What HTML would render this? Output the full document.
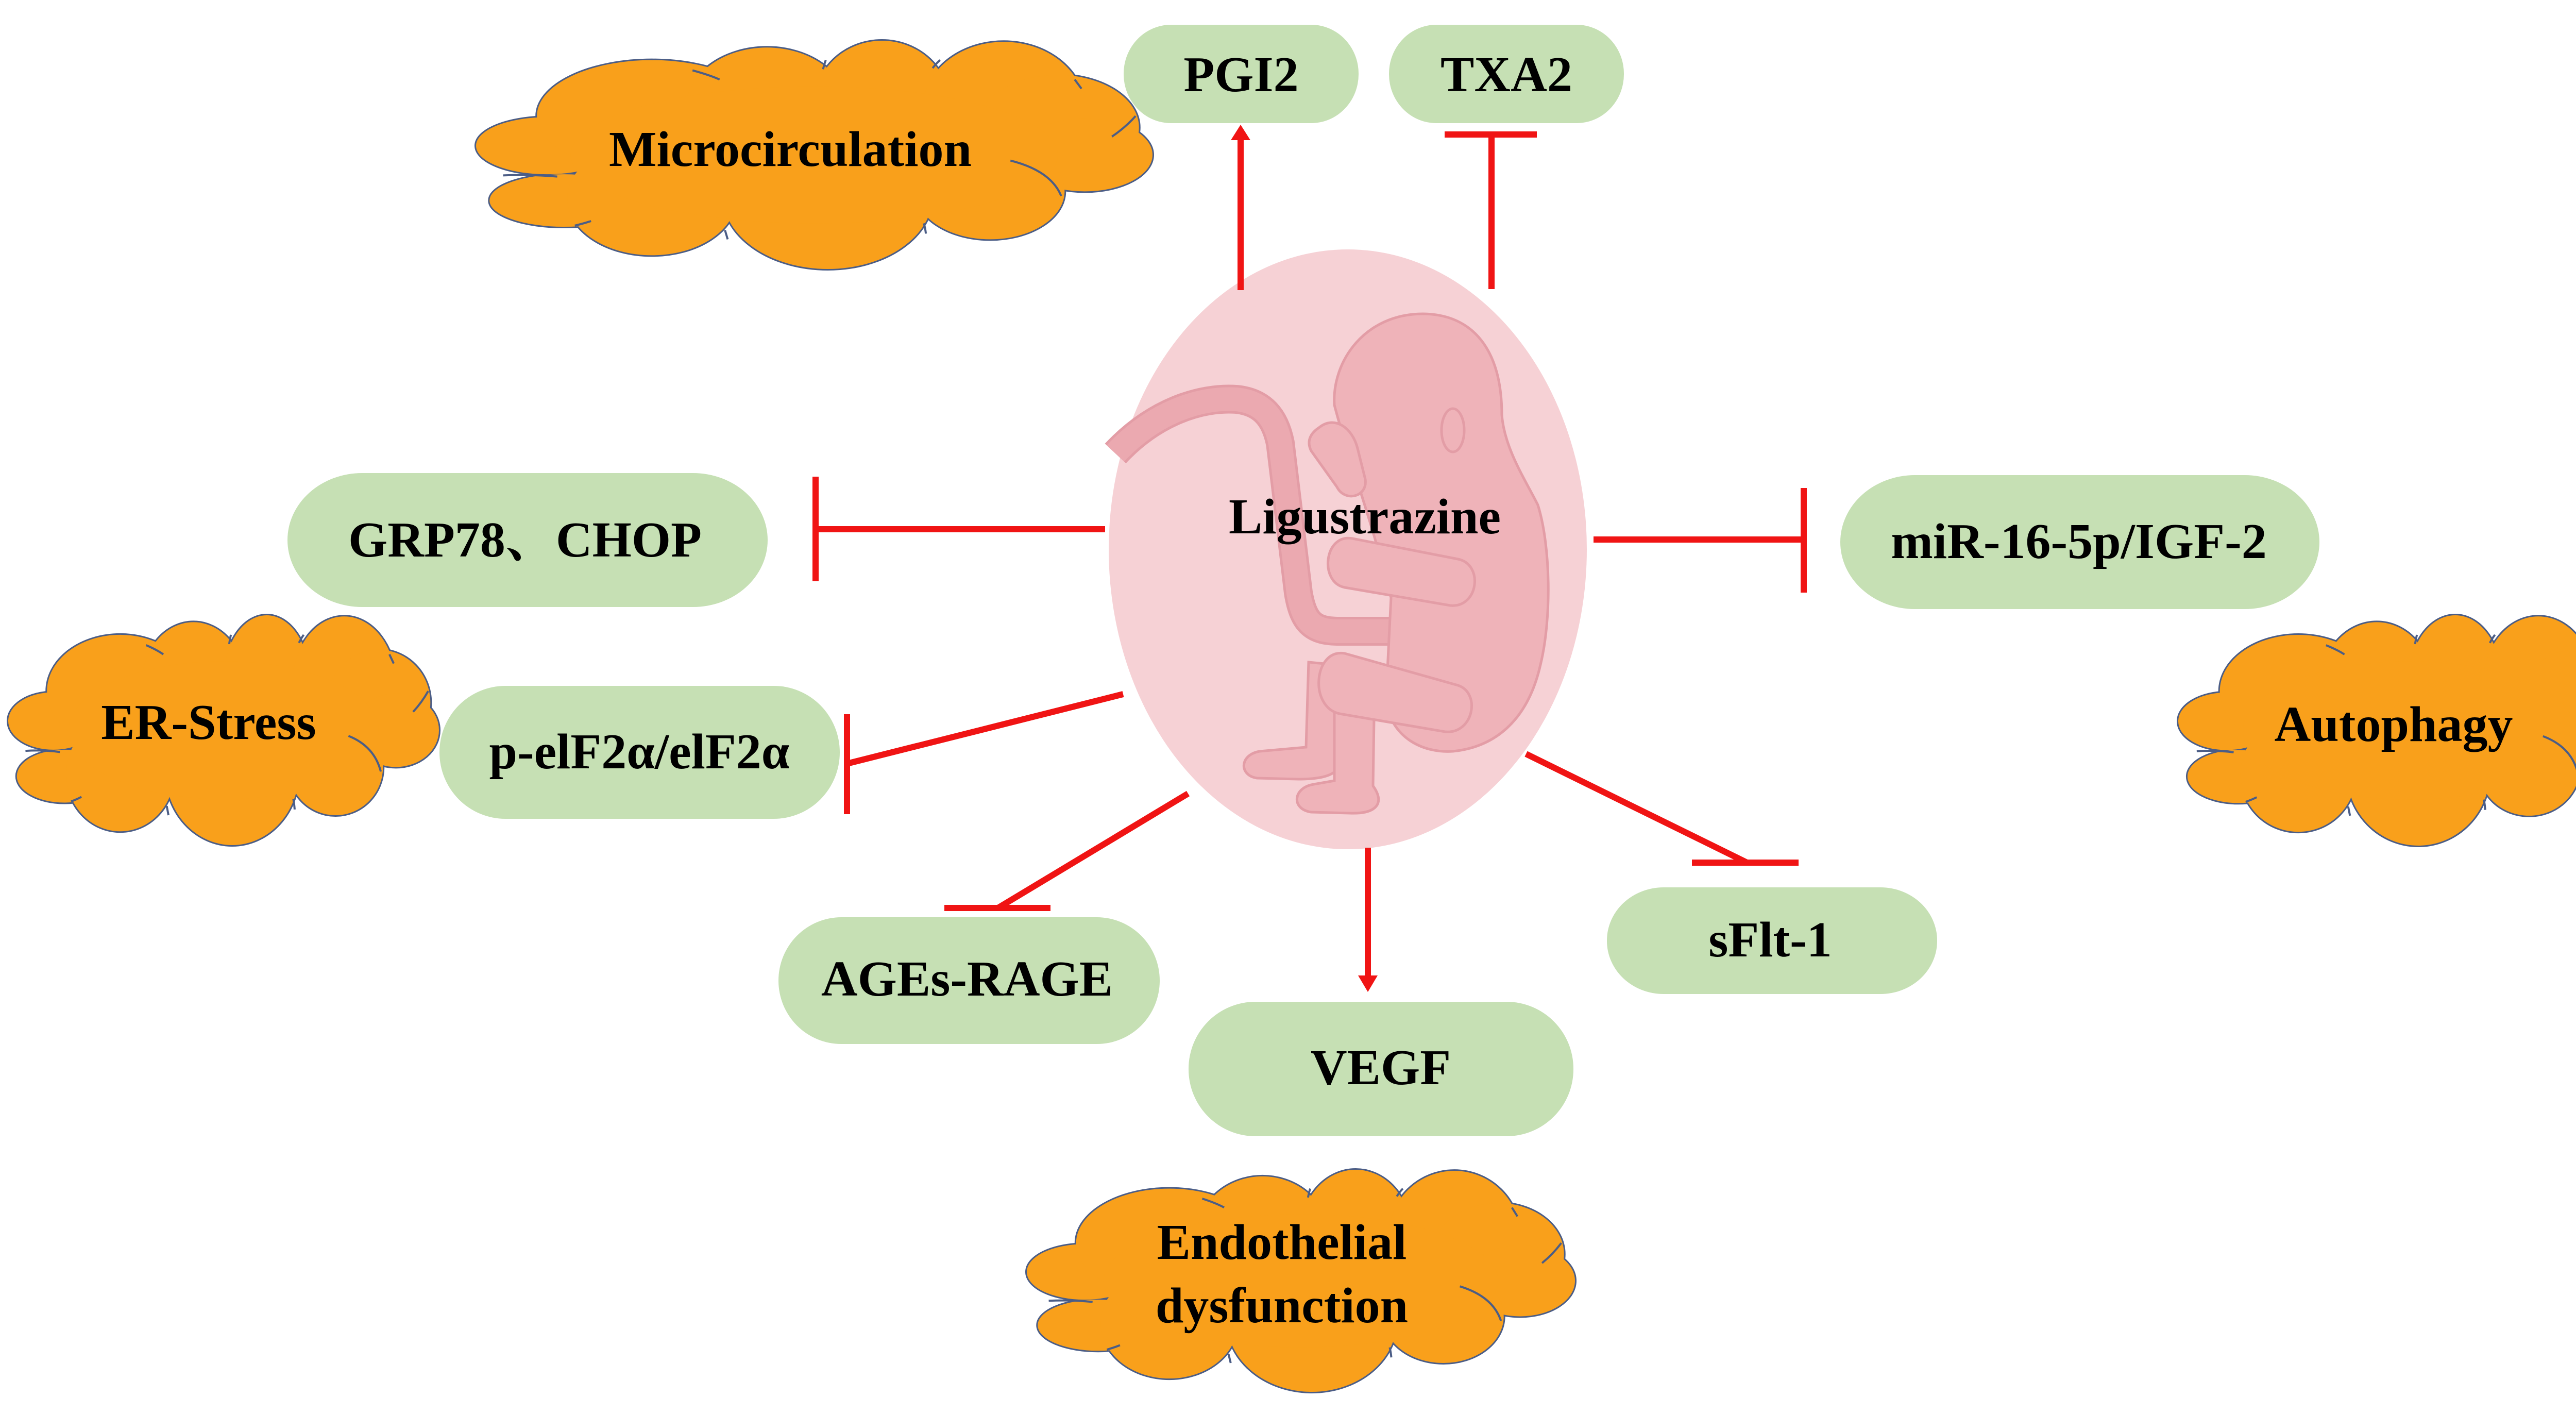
<!DOCTYPE html>
<html>
<head>
<meta charset="utf-8">
<style>
html,body{margin:0;padding:0;background:#fff;}
body{width:5213px;height:2744px;overflow:hidden;}
svg{display:block;}
.t{font-family:"Liberation Serif","Noto Serif CJK SC",serif;font-weight:bold;font-size:98px;fill:#000;text-anchor:middle;}
</style>
</head>
<body>
<svg width="5213" height="2744" viewBox="0 0 5213 2744" xmlns="http://www.w3.org/2000/svg">
<defs>
<g id="cl">
 <ellipse vector-effect="non-scaling-stroke" cx=".105" cy=".46" rx=".105" ry=".125"/>
 <ellipse vector-effect="non-scaling-stroke" cx=".13" cy=".70" rx=".11" ry=".115"/>
 <ellipse vector-effect="non-scaling-stroke" cx=".26" cy=".33" rx=".17" ry=".245"/>
 <ellipse vector-effect="non-scaling-stroke" cx=".43" cy=".30" rx=".12" ry=".27"/>
 <ellipse vector-effect="non-scaling-stroke" cx=".60" cy=".28" rx=".10" ry=".28"/>
 <ellipse vector-effect="non-scaling-stroke" cx=".78" cy=".30" rx=".12" ry=".295"/>
 <ellipse vector-effect="non-scaling-stroke" cx=".86" cy=".38" rx=".12" ry=".23"/>
 <ellipse vector-effect="non-scaling-stroke" cx=".90" cy=".50" rx=".10" ry=".16"/>
 <ellipse vector-effect="non-scaling-stroke" cx=".76" cy=".66" rx=".11" ry=".21"/>
 <ellipse vector-effect="non-scaling-stroke" cx=".52" cy=".68" rx=".155" ry=".32"/>
 <ellipse vector-effect="non-scaling-stroke" cx=".26" cy=".69" rx=".125" ry=".25"/>
 <ellipse vector-effect="non-scaling-stroke" cx=".5" cy=".5" rx=".36" ry=".3"/>
</g>
<g id="cr" fill="none">
 <path vector-effect="non-scaling-stroke" d="M.04,.59 Q.08,.585 .12,.595"/>
 <path vector-effect="non-scaling-stroke" d="M.32,.13 Q.345,.15 .36,.17"/>
 <path vector-effect="non-scaling-stroke" d="M.517,.085 Q.515,.1 .513,.125"/>
 <path vector-effect="non-scaling-stroke" d="M.686,.085 Q.68,.1 .675,.12"/>
 <path vector-effect="non-scaling-stroke" d="M.885,.17 Q.89,.19 .895,.21"/>
 <path vector-effect="non-scaling-stroke" d="M.975,.33 Q.96,.38 .94,.42"/>
 <path vector-effect="non-scaling-stroke" d="M.79,.525 Q.85,.57 .865,.68"/>
 <path vector-effect="non-scaling-stroke" d="M.146,.81 Q.16,.8 .17,.79"/>
 <path vector-effect="non-scaling-stroke" d="M.372,.87 Q.37,.85 .368,.83"/>
 <path vector-effect="non-scaling-stroke" d="M.662,.8 Q.664,.82 .665,.845"/>
</g>
</defs>

<!-- Clouds: stroke layer, fill layer, creases -->
<g fill="#f9a01b" stroke="#4b5d86" stroke-width="6">
 <use href="#cl" transform="translate(924 79) scale(1313 443)"/>
 <use href="#cl" transform="translate(16 1194) scale(836 446)"/>
 <use href="#cl" transform="translate(4228 1194) scale(896 447)"/>
 <use href="#cl" transform="translate(1993 2270) scale(1064 431)"/>
</g>
<g fill="#f9a01b" stroke="none">
 <use href="#cl" transform="translate(924 79) scale(1313 443)"/>
 <use href="#cl" transform="translate(16 1194) scale(836 446)"/>
 <use href="#cl" transform="translate(4228 1194) scale(896 447)"/>
 <use href="#cl" transform="translate(1993 2270) scale(1064 431)"/>
</g>
<g stroke="#4b5d86" stroke-width="4" fill="none">
 <use href="#cr" transform="translate(924 79) scale(1313 443)"/>
 <use href="#cr" transform="translate(16 1194) scale(836 446)"/>
 <use href="#cr" transform="translate(4228 1194) scale(896 447)"/>
 <use href="#cr" transform="translate(1993 2270) scale(1064 431)"/>
</g>

<!-- Green boxes -->
<g fill="#c6e0b4">
 <rect x="2181" y="48" width="456" height="191" rx="92" ry="95"/>
 <rect x="2696" y="48" width="456" height="191" rx="92" ry="95"/>
 <rect x="558" y="918" width="932" height="260" rx="145" ry="130"/>
 <rect x="3572" y="922" width="930" height="260" rx="145" ry="130"/>
 <rect x="853" y="1331" width="777" height="258" rx="128" ry="129"/>
 <rect x="1511" y="1780" width="740" height="246" rx="122" ry="123"/>
 <rect x="2307" y="1944" width="747" height="261" rx="130" ry="130"/>
 <rect x="3119" y="1722" width="641" height="207" rx="110" ry="103"/>
</g>

<!-- Egg -->
<ellipse cx="2616" cy="1066" rx="464" ry="582" fill="#f6d1d5"/>

<!-- Fetus -->
<g fill="#efb3b9" stroke="#e39da6" stroke-width="5">
 <path d="M2165,880 C2240,800 2330,770 2400,775 C2450,780 2475,810 2485,860 L2520,1150 C2530,1210 2550,1225 2600,1225 L2735,1225" fill="none" stroke="#e39da6" stroke-width="56" stroke-linecap="butt"/>
 <path d="M2165,880 C2240,800 2330,770 2400,775 C2450,780 2475,810 2485,860 L2520,1150 C2530,1210 2550,1225 2600,1225 L2735,1225" fill="none" stroke="#eba9b0" stroke-width="46" stroke-linecap="butt"/>
 <path d="M2540,1285 L2612,1292 L2605,1455 C2610,1500 2580,1512 2520,1512 L2440,1510 C2405,1505 2405,1465 2445,1458 L2535,1450 Z"/>
 <path d="M2590,1320 L2668,1330 L2665,1525 C2690,1560 2670,1580 2620,1578 L2545,1576 C2505,1570 2510,1528 2550,1522 L2590,1515 Z"/>
 <path d="M2590,786 C2585,700 2650,609 2762,609 C2860,610 2915,680 2915,805 C2920,870 2960,930 2985,980 C3010,1060 3012,1200 2990,1290 C2965,1400 2900,1450 2820,1458 C2760,1462 2700,1430 2690,1360 L2700,1160 C2660,1000 2620,900 2590,786 Z"/>
 <path d="M2610,1268 L2830,1330 C2875,1345 2860,1425 2805,1420 L2600,1385 C2540,1372 2550,1258 2610,1268 Z"/>
 <path d="M2625,1045 L2830,1085 C2880,1095 2870,1180 2815,1175 L2610,1140 C2560,1130 2570,1035 2625,1045 Z"/>
 <path d="M2560,830 C2590,805 2625,830 2635,870 L2650,930 C2655,965 2610,975 2595,945 L2545,875 C2535,855 2545,840 2560,830 Z"/>
 <ellipse cx="2820" cy="835" rx="22" ry="42" fill="none"/>
</g>

<!-- Red connectors -->
<g stroke="#f01414" stroke-width="12" fill="none" stroke-linecap="butt">
 <line x1="2408" y1="563" x2="2408" y2="266"/>
 <line x1="2895" y1="561" x2="2895" y2="261"/>
 <line x1="2804" y1="261" x2="2983" y2="261"/>
 <line x1="2145" y1="1027" x2="1583" y2="1027"/>
 <line x1="1583" y1="925" x2="1583" y2="1128"/>
 <line x1="3093" y1="1047" x2="3501" y2="1047"/>
 <line x1="3501" y1="947" x2="3501" y2="1150"/>
 <line x1="2180" y1="1347" x2="1644" y2="1482"/>
 <line x1="1644" y1="1386" x2="1644" y2="1580"/>
 <line x1="2306" y1="1540" x2="1937" y2="1762"/>
 <line x1="1833" y1="1762" x2="2039" y2="1762"/>
 <line x1="2655" y1="1645" x2="2655" y2="1900"/>
 <line x1="2962" y1="1463" x2="3391" y2="1674"/>
 <line x1="3284" y1="1674" x2="3491" y2="1674"/>
</g>
<g fill="#f01414">
 <polygon points="2408,242 2389,272 2427,272"/>
 <polygon points="2655,1925 2636,1893 2674,1893"/>
</g>

<!-- Labels -->
<text class="t" x="2409" y="177">PGI2</text>
<text class="t" x="2924" y="177">TXA2</text>
<text class="t" x="1534" y="322">Microcirculation</text>
<text class="t" x="2649" y="1035">Ligustrazine</text>
<text class="t" x="1019" y="1080">GRP78、CHOP</text>
<text class="t" x="4035" y="1083">miR-16-5p/IGF-2</text>
<text class="t" x="405" y="1434">ER-Stress</text>
<text class="t" x="1241" y="1491">p-elF2α/elF2α</text>
<text class="t" x="4646" y="1438">Autophagy</text>
<text class="t" x="1877" y="1932">AGEs-RAGE</text>
<text class="t" x="3436" y="1856">sFlt-1</text>
<text class="t" x="2680" y="2104">VEGF</text>
<text class="t" x="2488" y="2443">Endothelial</text>
<text class="t" x="2488" y="2566">dysfunction</text>
</svg>
</body>
</html>
